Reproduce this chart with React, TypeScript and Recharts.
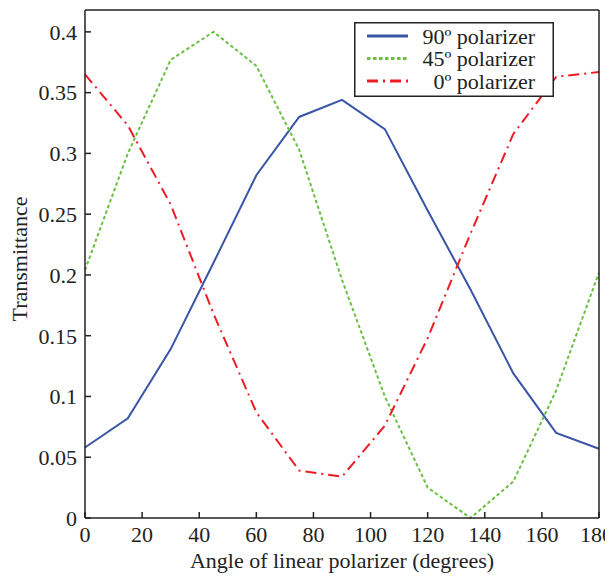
import { LineChart, Line, XAxis, YAxis, Legend } from 'recharts';

const angles = [0, 15, 30, 45, 60, 75, 90, 105, 120, 135, 150, 165, 180];
const pol90 = [0.058, 0.082, 0.139, 0.21, 0.282, 0.33, 0.344, 0.32, 0.253, 0.188, 0.119, 0.07, 0.057];
const pol45 = [0.204, 0.3, 0.377, 0.4, 0.372, 0.303, 0.196, 0.1, 0.025, 0, 0.03, 0.105, 0.202];
const pol0 = [0.365, 0.323, 0.258, 0.168, 0.087, 0.039, 0.034, 0.076, 0.148, 0.234, 0.316, 0.363, 0.367];

const xTicks = [0, 20, 40, 60, 80, 100, 120, 140, 160, 180];
const yTicks = [0, 0.05, 0.1, 0.15, 0.2, 0.25, 0.3, 0.35, 0.4];

const seriesNames = ['90º polarizer', '45º polarizer', '0º polarizer'];

const data = angles.map((a, i) => ({
  angle: a,
  p90: pol90[i],
  p45: pol45[i],
  p0: pol0[i],
}));

const FONT = 'Liberation Serif, Times New Roman, Times, DejaVu Serif, serif';
const BLUE = '#3a55a6';
const GREEN = '#6cbf45';
const RED = '#ed1c24';

const styles = [
  { color: BLUE, dash: undefined as string | undefined },
  { color: GREEN, dash: '3.5 2.5' },
  { color: RED, dash: '11 5 2 5' },
];

function LegendBox() {
  return (
    <svg width={200} height={75} style={{ display: 'block' }}>
      <rect x={0.75} y={0.75} width={198.5} height={73.5} fill="#fff" stroke="#222" strokeWidth={1.5} />
      {seriesNames.map((name, i) => {
        const y = 14 + i * 22.5;
        return (
          <g key={name}>
            <line x1={13} x2={54} y1={y} y2={y} stroke={styles[i].color} strokeWidth={3} strokeDasharray={styles[i].dash} />
            <text x={181} y={y} dy="0.35em" textAnchor="end" style={{ fontFamily: FONT, fontSize: 22 }} fill="#222">
              {name}
            </text>
          </g>
        );
      })}
    </svg>
  );
}

const tickStyle = { fontSize: 22, fill: '#222', style: { fontFamily: FONT } };

export default function App() {
  return (
    <div style={{ fontFamily: FONT }}>
      <LineChart width={605} height={570} data={data} margin={{ top: 1, right: 13, left: 0, bottom: 0 }} style={{ fontFamily: FONT }}>
        <XAxis
          dataKey="angle"
          type="number"
          domain={[0, 180]}
          ticks={xTicks}
          tickSize={-6}
          tickMargin={14}
          tick={tickStyle}
          stroke="#222"
          strokeWidth={1.5}
          height={60}
          label={{ value: 'Angle of linear polarizer (degrees)', position: 'insideBottom', offset: 10, style: { fontFamily: FONT, fontSize: 22, fill: '#222' } }}
        />
        <XAxis
          xAxisId="top"
          orientation="top"
          dataKey="angle"
          type="number"
          domain={[0, 180]}
          ticks={xTicks}
          tickSize={-6}
          tick={false}
          stroke="#222"
          strokeWidth={1.5}
          height={1}
        />
        <YAxis
          yAxisId="left"
          type="number"
          domain={[0, 0.418]}
          ticks={yTicks}
          tickSize={-6}
          tickMargin={14}
          tick={tickStyle}
          tickFormatter={(v: number) => String(v)}
          stroke="#222"
          strokeWidth={1.5}
          width={77}
          label={({ viewBox }: any) => (
            <text
              x={11}
              y={viewBox.y + viewBox.height / 2 - 5}
              transform={`rotate(-90, 11, ${viewBox.y + viewBox.height / 2 - 5})`}
              textAnchor="middle"
              dy="0.35em"
              style={{ fontFamily: FONT, fontSize: 22 }}
              fill="#222"
            >
              Transmittance
            </text>
          )}
        />
        <YAxis
          yAxisId="right"
          orientation="right"
          type="number"
          domain={[0, 0.418]}
          ticks={yTicks}
          tickSize={-6}
          tick={false}
          stroke="#222"
          strokeWidth={1.5}
          width={1}
        />
        <Legend
          layout="vertical"
          align="center"
          verticalAlign="middle"
          content={() => <LegendBox />}
          wrapperStyle={{ position: 'absolute', left: 346, top: 14, width: 200, height: 75 }}
        />
        <Line yAxisId="left" type="linear" dataKey="p90" name={seriesNames[0]} stroke={BLUE} strokeWidth={2} dot={false} isAnimationActive={false} />
        <Line yAxisId="left" type="linear" dataKey="p45" name={seriesNames[1]} stroke={GREEN} strokeWidth={2} strokeDasharray="3.5 2.5" dot={false} isAnimationActive={false} />
        <Line yAxisId="left" type="linear" dataKey="p0" name={seriesNames[2]} stroke={RED} strokeWidth={2} strokeDasharray="11 5 2 5" dot={false} isAnimationActive={false} />
      </LineChart>
    </div>
  );
}
